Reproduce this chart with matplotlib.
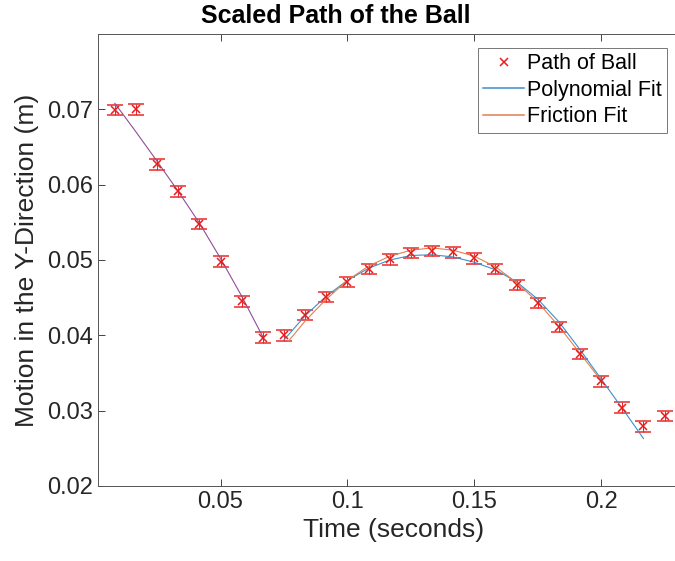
import numpy as np
import matplotlib
matplotlib.use("Agg")
import matplotlib.pyplot as plt
from matplotlib.lines import Line2D

# measured ball path (120 fps)
t_data = [0.00833, 0.01667, 0.025, 0.03333, 0.04167, 0.05, 0.05833, 0.06667,
          0.075, 0.08333, 0.09167, 0.1, 0.10833, 0.11667, 0.125, 0.13333,
          0.14167, 0.15, 0.15833, 0.16667, 0.175, 0.18333, 0.19167, 0.2,
          0.20833, 0.21667, 0.225]
y_data = [0.0699, 0.0700, 0.0627, 0.0591, 0.0548, 0.0498, 0.0445, 0.0397,
          0.0400, 0.0427, 0.0451, 0.0471, 0.0488, 0.0501, 0.0509, 0.0512,
          0.0510, 0.0502, 0.0488, 0.0467, 0.0443, 0.0411, 0.0375, 0.0339,
          0.0304, 0.0279, 0.0293]
y_err = 0.0007

# fit before the bounce
t_fall = [0.00833, 0.01667, 0.025, 0.03333, 0.04167, 0.05, 0.05833, 0.06667]
y_fall = [0.0708, 0.0670, 0.0631, 0.0591, 0.0549, 0.0502, 0.0452, 0.0398]

# fits after the bounce
t_poly = [0.075, 0.08333, 0.09167, 0.1, 0.10833, 0.11667, 0.125, 0.13333,
          0.14167, 0.15, 0.15833, 0.16667, 0.175, 0.18333, 0.19167, 0.2,
          0.20833, 0.21667]
y_poly = [0.0394, 0.0426, 0.0452, 0.0473, 0.0489, 0.0500, 0.0506, 0.0507,
          0.0504, 0.0497, 0.0487, 0.0471, 0.0448, 0.0418, 0.0381, 0.0342,
          0.0303, 0.0263]

t_fric = [0.0767, 0.08333, 0.09167, 0.1, 0.10833, 0.11667, 0.125, 0.13333,
          0.14167, 0.15, 0.15833, 0.16667, 0.175, 0.18333, 0.19167, 0.2]
y_fric = [0.0392, 0.0419, 0.0448, 0.0473, 0.0492, 0.0505, 0.0513, 0.0516,
          0.0513, 0.0505, 0.0491, 0.0470, 0.0444, 0.0412, 0.0376, 0.0340]

plt.rcParams['font.family'] = ['Liberation Sans', 'DejaVu Sans']
dark = '#262626'
blue = '#3d8fcc'
orange = '#e0804f'

fig = plt.figure(figsize=(6.75, 5.61), dpi=100)
ax = fig.add_axes([98/675, 1-486/561, 592/675, 452/561])

ax.errorbar(t_data, y_data, yerr=y_err, fmt='x', color='#e81c1c',
            ecolor='#e82a2a', elinewidth=0.75, capsize=6, capthick=0.75,
            markersize=5.5, markeredgewidth=1.1)
ax.plot(t_poly, y_poly, color=blue, lw=0.8)
ax.plot(t_fric, y_fric, color=orange, lw=0.8)
ax.plot(t_fall, y_fall, color='#8e4f95', lw=0.8)

ax.set_xlim(0.0017, 0.235)
ax.set_ylim(0.02, 0.08)
ax.set_xticks([0.05, 0.1, 0.15, 0.2])
ax.set_xticklabels(['0.05', '0.1', '0.15', '0.2'])
ax.set_yticks([0.02, 0.03, 0.04, 0.05, 0.06, 0.07])
ax.set_yticklabels(['0.02', '0.03', '0.04', '0.05', '0.06', '0.07'])
ax.tick_params(direction='in', length=5, width=0.6, colors=dark, labelsize=17,
               top=True, right=True)
for s in ax.spines.values():
    s.set_color('#555555')
    s.set_linewidth(0.7)

ax.set_xlabel('Time (seconds)', fontsize=19, color=dark, labelpad=4)
ax.set_ylabel('Motion in the Y-Direction (m)', fontsize=19, color=dark, labelpad=6)
fig.text(336/675, 1-16/561, 'Scaled Path of the Ball', fontsize=18,
         fontweight='bold', ha='center', va='center')

# legend proxies
h_ball = Line2D([], [], ls='none', marker='x', color='#e81c1c',
                markersize=5.5, markeredgewidth=1.1)
h_poly = Line2D([], [], color=blue, lw=1.1)
h_fric = Line2D([], [], color=orange, lw=1.1)
leg = ax.legend([h_ball, h_poly, h_fric], ['Path of Ball', 'Polynomial Fit', 'Friction Fit'],
                loc='upper left', bbox_to_anchor=(478/675, 1-48/561),
                bbox_transform=fig.transFigure, fontsize=15.5, frameon=True,
                fancybox=False, edgecolor='#555555', handlelength=1.9,
                handletextpad=0.12, borderpad=0.25, labelspacing=0.25,
                borderaxespad=0)
leg.get_frame().set_linewidth(0.7)

fig.savefig('out.png', dpi=100)
